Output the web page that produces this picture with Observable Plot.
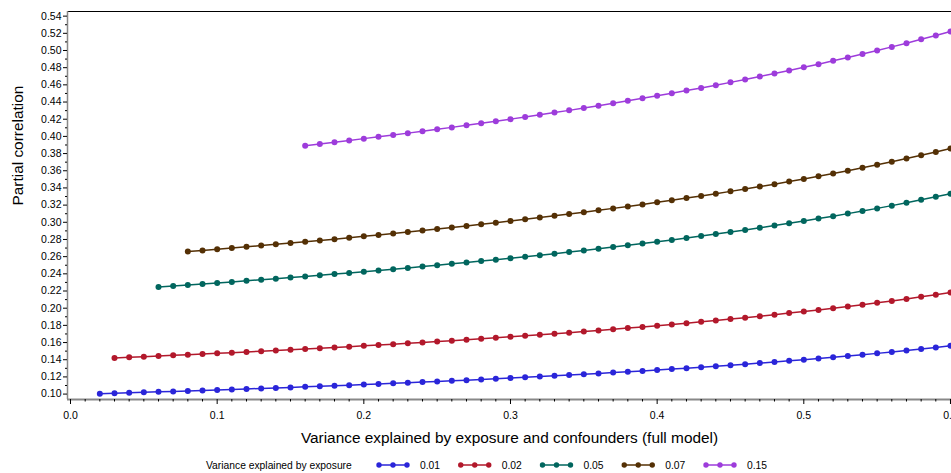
<!DOCTYPE html>
<html><head><meta charset="utf-8">
<script src="https://cdn.jsdelivr.net/npm/d3@7"></script>
<script src="https://cdn.jsdelivr.net/npm/@observablehq/plot@0.6"></script>
<style>
body{margin:0;background:#fff;font-family:"Liberation Sans",Arial,sans-serif}
#legend{display:block}
</style>
</head><body><div id="chart"></div><script>
// x values: variance explained by exposure and confounders (full model)
const fullModel = [0.02,0.03,0.04,0.05,0.06,0.07,0.08,0.09,0.10,0.11,0.12,0.13,0.14,0.15,0.16,0.17,0.18,0.19,0.20,0.21,0.22,0.23,0.24,0.25,0.26,0.27,0.28,0.29,0.30,0.31,0.32,0.33,0.34,0.35,0.36,0.37,0.38,0.39,0.40,0.41,0.42,0.43,0.44,0.45,0.46,0.47,0.48,0.49,0.50,0.51,0.52,0.53,0.54,0.55,0.56,0.57,0.58,0.59,0.60];
const exposureLevels = ["0.01","0.02","0.05","0.07","0.15"];
const seriesColors = ["#2A25D9","#B2182B","#01665E","#543005","#9D3CDB"];
// partial correlation values (each series ends at x = 0.60)
const pc001 = [0.1005,0.1010,0.1015,0.1021,0.1026,0.1031,0.1037,0.1043,0.1048,0.1054,0.1060,0.1066,0.1072,0.1078,0.1085,0.1091,0.1098,0.1104,0.1111,0.1118,0.1125,0.1132,0.1140,0.1147,0.1155,0.1162,0.1170,0.1179,0.1187,0.1195,0.1204,0.1213,0.1222,0.1231,0.1240,0.1250,0.1260,0.1270,0.1280,0.1291,0.1302,0.1313,0.1325,0.1336,0.1348,0.1361,0.1374,0.1387,0.1400,0.1414,0.1429,0.1443,0.1459,0.1474,0.1491,0.1508,0.1525,0.1543,0.1562];
const pc002 = [0.1421,0.1429,0.1436,0.1443,0.1451,0.1459,0.1466,0.1474,0.1482,0.1491,0.1499,0.1508,0.1516,0.1525,0.1534,0.1543,0.1552,0.1562,0.1571,0.1581,0.1591,0.1601,0.1612,0.1622,0.1633,0.1644,0.1655,0.1667,0.1678,0.1690,0.1703,0.1715,0.1728,0.1741,0.1754,0.1768,0.1782,0.1796,0.1811,0.1826,0.1841,0.1857,0.1873,0.1890,0.1907,0.1925,0.1943,0.1961,0.1980,0.2000,0.2020,0.2041,0.2063,0.2085,0.2108,0.2132,0.2157,0.2182];
const pc005 = [0.2247,0.2259,0.2270,0.2282,0.2294,0.2306,0.2319,0.2331,0.2344,0.2357,0.2370,0.2384,0.2397,0.2411,0.2425,0.2440,0.2454,0.2469,0.2485,0.2500,0.2516,0.2532,0.2548,0.2565,0.2582,0.2599,0.2617,0.2635,0.2654,0.2673,0.2692,0.2712,0.2732,0.2752,0.2774,0.2795,0.2817,0.2840,0.2863,0.2887,0.2911,0.2936,0.2962,0.2988,0.3015,0.3043,0.3071,0.3101,0.3131,0.3162,0.3194,0.3227,0.3262,0.3297,0.3333];
const pc007 = [0.2659,0.2673,0.2686,0.2700,0.2714,0.2729,0.2744,0.2758,0.2774,0.2789,0.2804,0.2820,0.2837,0.2853,0.2870,0.2887,0.2904,0.2922,0.2940,0.2958,0.2977,0.2996,0.3015,0.3035,0.3055,0.3076,0.3097,0.3118,0.3140,0.3162,0.3185,0.3208,0.3232,0.3257,0.3282,0.3307,0.3333,0.3360,0.3388,0.3416,0.3444,0.3474,0.3504,0.3536,0.3568,0.3600,0.3634,0.3669,0.3705,0.3742,0.3780,0.3819,0.3859];
const pc015 = [0.3892,0.3912,0.3932,0.3953,0.3974,0.3995,0.4016,0.4038,0.4060,0.4082,0.4105,0.4129,0.4152,0.4176,0.4201,0.4226,0.4251,0.4277,0.4303,0.4330,0.4357,0.4385,0.4414,0.4443,0.4472,0.4502,0.4533,0.4564,0.4596,0.4629,0.4663,0.4697,0.4732,0.4767,0.4804,0.4841,0.4880,0.4919,0.4959,0.5000,0.5042,0.5085,0.5130,0.5175,0.5222];
const xTicks = [0.0,0.1,0.2,0.3,0.4,0.5,0.6];
const yTicks = [0.10,0.12,0.14,0.16,0.18,0.20,0.22,0.24,0.26,0.28,0.30,0.32,0.34,0.36,0.38,0.40,0.42,0.44,0.46,0.48,0.50,0.52,0.54];
const xTitle = "Variance explained by exposure and confounders (full model)";
const yTitle = "Partial correlation";
const legendTitle = "Variance explained by exposure";

const seriesValues = [pc001, pc002, pc005, pc007, pc015];
const rows = [];
seriesValues.forEach((vals, s) => {
  const off = fullModel.length - vals.length;
  vals.forEach((v, i) => rows.push({x: fullModel[off + i], y: v, series: exposureLevels[s]}));
});

const xDomain = [-0.00205, 0.6007];
const yDomain = [0.0937, 0.5454];
const minorX = d3.range(0, 61).map(i => i / 100).filter(v => Math.round(v * 100) % 10 !== 0);
const minorY = d3.range(11, 55, 2).map(i => i / 100);
const font = "Liberation Sans, Arial, sans-serif";

const chart = Plot.plot({
  width: 951, height: 452,
  marginLeft: 67, marginRight: 0, marginTop: 11, marginBottom: 53,
  style: {fontFamily: font, fontSize: "10.5px", color: "#000", background: "#fff", overflow: "visible"},
  x: {domain: xDomain},
  y: {domain: yDomain},
  color: {domain: exposureLevels, range: seriesColors},
  marks: [
    Plot.ruleY([yDomain[1]], {stroke: "#000", strokeWidth: 1}),
    Plot.ruleX([xDomain[0]], {stroke: "#888", strokeWidth: 1.5}),
    Plot.ruleY([yDomain[0]], {stroke: "#888", strokeWidth: 2}),
    Plot.axisX({ticks: xTicks, tickFormat: d3.format(".1f"), tickSize: 5, tickPadding: 7, label: null, fontSize: 10.5}),
    Plot.axisX({ticks: minorX, tickFormat: () => "", tickSize: 2.5, label: null}),
    Plot.axisY({ticks: yTicks, tickFormat: d3.format(".2f"), tickSize: 4, tickPadding: 2, label: null, fontSize: 10.5}),
    Plot.axisY({ticks: minorY, tickFormat: () => "", tickSize: 2, label: null}),
    Plot.line(rows, {x: "x", y: "y", stroke: "series", z: "series", strokeWidth: 1.5}),
    Plot.dot(rows, {x: "x", y: "y", fill: "series", r: 3}),
    Plot.text([xTitle], {text: d => d, frameAnchor: "bottom", dy: 43, fontSize: 15.4, fill: "#000"}),
    Plot.text([yTitle], {text: d => d, frameAnchor: "left", rotate: -90, dx: -49, fontSize: 15.4, fill: "#000"})
  ]
});
document.getElementById("chart").appendChild(chart);

// legend below the plot
const lg = d3.select("#chart").append("svg")
  .attr("id", "legend").attr("width", 951).attr("height", 21)
  .style("font-family", font).style("font-size", "10.3px");
lg.append("text").attr("x", 206).attr("y", 13.5).attr("dy", "0.35em").text(legendTitle);
exposureLevels.forEach((lab, i) => {
  const x0 = 379 + i * 81.75;
  const g = lg.append("g");
  g.append("line").attr("x1", x0 - 2).attr("x2", x0 + 30).attr("y1", 13).attr("y2", 13)
    .attr("stroke", seriesColors[i]).attr("stroke-width", 1.5);
  [0, 14, 28].forEach(d => g.append("circle").attr("cx", x0 + d).attr("cy", 13).attr("r", 2.7).attr("fill", seriesColors[i]));
  g.append("text").attr("x", x0 + 41).attr("y", 13.5).attr("dy", "0.35em").text(lab);
});
</script></body></html>
